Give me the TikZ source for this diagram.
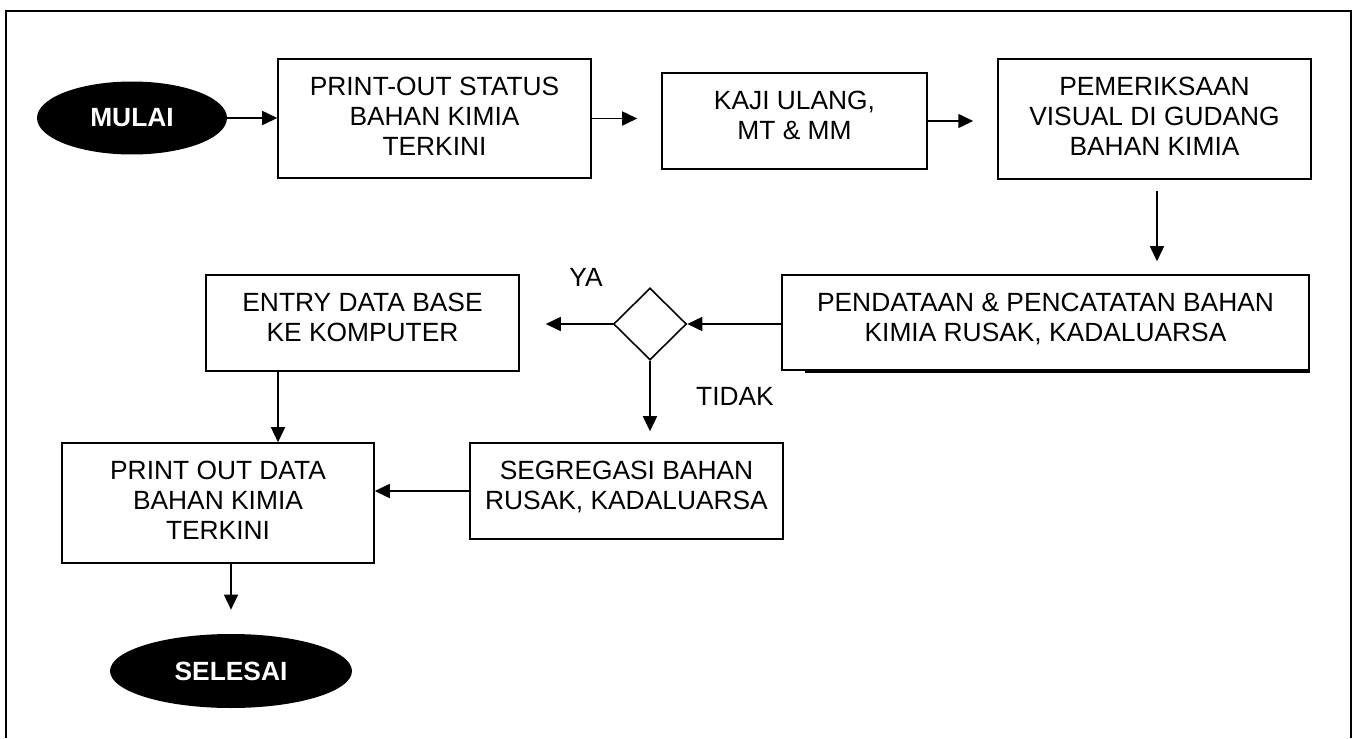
\documentclass[tikz,border=0pt]{standalone}
\usepackage{fontspec}
\setmainfont{Liberation Sans}
\usetikzlibrary{arrows.meta, shapes.geometric, positioning, calc}

\begin{document}
\begin{tikzpicture}[x=0.02cm, y=-0.02cm, font=\fontsize{15}{17}\selectfont,
	garis/.style={line width=0.9pt},
	kotak/.style={garis, draw, rectangle, inner sep=0pt},
	isi/.style={anchor=north, align=center, inner sep=0pt, yshift=-0.37cm},
	terminal/.style={ellipse, fill=black, text=white, inner sep=0pt,
		font=\fontsize{15}{17}\selectfont\bfseries},
	putusan/.style={garis, draw, diamond, inner sep=0pt,
		minimum width=1.46cm, minimum height=1.44cm},
	panah/.style={garis, -{Triangle[length=0.3cm, width=0.28cm]}}]

	\useasboundingbox (0,0) rectangle (1357,738);
	\draw[line width=1.2pt] (6,738) -- (6,11) -- (1351,11) -- (1351,738);

	% baris atas
	\node[terminal, minimum width=3.8cm, minimum height=1.46cm] (mulai) at (132,118) {MULAI};
	\node[kotak, minimum width=6.26cm, minimum height=2.38cm,
		label={[isi]north:{PRINT-OUT STATUS\\BAHAN KIMIA\\TERKINI}}] (cetak) at (434.5,118.5) {};
	\node[kotak, minimum width=5.3cm, minimum height=1.92cm,
		label={[isi]north:{KAJI ULANG,\\MT \& MM}}] (kaji) at (794.5,121) {};
	\node[kotak, minimum width=6.26cm, minimum height=2.4cm,
		label={[isi]north:{PEMERIKSAAN\\VISUAL DI GUDANG\\BAHAN KIMIA}}] (periksa) at (1154.5,119) {};

	% baris tengah
	\node[kotak, minimum width=10.54cm, minimum height=1.9cm,
		label={[isi]north:{PENDATAAN \& PENCATATAN BAHAN\\KIMIA RUSAK, KADALUARSA}}] (pendataan) at (1045.5,322.5) {};
	\draw[garis] ([xshift=0.48cm, yshift=-0.025cm]pendataan.south west) -- ([yshift=-0.025cm]pendataan.south east);
	\node[putusan] (putus) at (650,324) {};
	\node[kotak, minimum width=6.26cm, minimum height=1.92cm,
		label={[isi]north:{ENTRY DATA BASE\\KE KOMPUTER}}] (entry) at (362.5,323) {};
	\node (ya) at (586,277) {YA};
	\node (tidak) at (735,396) {TIDAK};

	% baris bawah
	\node[kotak, minimum width=6.26cm, minimum height=1.92cm,
		label={[isi]north:{SEGREGASI BAHAN\\RUSAK, KADALUARSA}}] (segregasi) at (626.5,491) {};
	\node[kotak, minimum width=6.24cm, minimum height=2.4cm,
		label={[isi]north:{PRINT OUT DATA\\BAHAN KIMIA\\TERKINI}}] (printout) at (218,503) {};
	\node[terminal, minimum width=4.84cm, minimum height=1.48cm] (selesai) at (231,671) {SELESAI};

	% panah
	\draw[panah] (mulai.east) -- (mulai.east -| cetak.west);
	\draw[panah, shorten >=0.48cm] (cetak.east) -- (cetak.east -| kaji.west);
	\draw[panah, shorten >=0.48cm] (kaji.east) -- (kaji.east -| periksa.west);
	\draw[panah, shorten <=0.22cm, shorten >=0.26cm] ([xshift=0.05cm]periksa.south)
		-- ([xshift=0.05cm]periksa.south |- pendataan.north);
	\draw[panah] (putus.east -| pendataan.west) -- (putus.east);
	\draw[panah, shorten >=0.52cm] (putus.west) -- (putus.west -| entry.east);
	\draw[panah, shorten >=0.22cm] (putus.south) -- (putus.south |- segregasi.north);
	\draw[panah] (segregasi.west) -- (segregasi.west -| printout.east);
	\draw[panah] ([xshift=-1.69cm]entry.south) -- ([xshift=-1.69cm]entry.south |- printout.north);
	\draw[panah, shorten >=0.48cm] (printout.south -| selesai.north) -- (selesai.north);
\end{tikzpicture}
\end{document}
